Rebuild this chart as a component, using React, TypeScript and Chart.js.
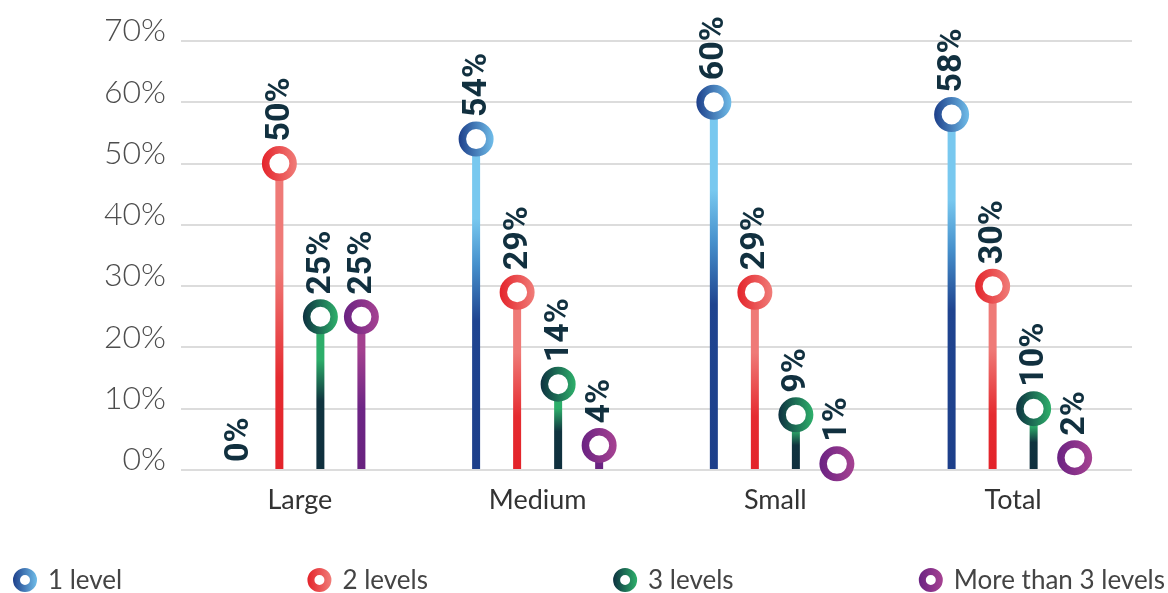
import { useEffect, useRef } from 'react';
import { Chart, registerables } from 'chart.js';

Chart.register(...registerables);

const categories = ['Large', 'Medium', 'Small', 'Total'];
const seriesNames = ['1 level', '2 levels', '3 levels', 'More than 3 levels'];
const oneLevel = [0, 54, 60, 58];
const twoLevels = [50, 29, 29, 30];
const threeLevels = [25, 14, 9, 10];
const moreThanThree = [25, 4, 1, 2];
const yMin = 0;
const yMax = 70;
const yStep = 10;

type Stop = [number, string];
const stemStops: Stop[][] = [
  [[0, '#1d3f8a'], [0.45, '#1f4490'], [0.62, '#4690cc'], [0.76, '#78c8ef'], [1, '#78c8ef']],
  [[0, '#e3232a'], [0.3, '#e52b30'], [0.66, '#ef7a77'], [1, '#ef7a77']],
  [[0, '#0f2f3e'], [0.45, '#10343f'], [0.72, '#2dae6a'], [1, '#2dae6a']],
  [[0, '#68227f'], [0.4, '#6d2585'], [0.78, '#a3408f'], [1, '#a3408f']],
];
const ringStops: [string, string][] = [
  ['#1d3f8a', '#70bde9'],
  ['#e4232a', '#f07d79'],
  ['#0d3140', '#2eb06b'],
  ['#6a2282', '#a64292'],
];

const seriesValues = [oneLevel, twoLevels, threeLevels, moreThanThree];

function drawRing(ctx: CanvasRenderingContext2D, x: number, y: number, rMid: number, lw: number, cols: [string, string]) {
  const rOut = rMid + lw / 2;
  const g = ctx.createLinearGradient(x - rOut, 0, x + rOut, 0);
  g.addColorStop(0, cols[0]);
  g.addColorStop(1, cols[1]);
  ctx.save();
  ctx.beginPath();
  ctx.arc(x, y, rMid, 0, Math.PI * 2);
  ctx.fillStyle = '#ffffff';
  ctx.fill();
  ctx.lineWidth = lw;
  ctx.strokeStyle = g;
  ctx.stroke();
  ctx.restore();
}

const lollipopPlugin = {
  id: 'lollipop',
  afterDatasetsDraw(chart: any) {
    const ctx = chart.ctx as CanvasRenderingContext2D;
    chart.data.datasets.forEach((ds: any, di: number) => {
      const meta = chart.getDatasetMeta(di);
      meta.data.forEach((el: any, i: number) => {
        const v = ds.data[i] as number;
        const { x, y } = el.getProps(['x', 'y'], true);
        if (v > 0) drawRing(ctx, x, y, 13.75, 7.5, ringStops[di]);
        ctx.save();
        ctx.translate(x, y - (v > 0 ? 22 : 8));
        ctx.rotate(-Math.PI / 2);
        ctx.font = 'bold 34px Roboto';
        ctx.fillStyle = '#11303f';
        ctx.textAlign = 'left';
        ctx.textBaseline = 'middle';
        ctx.fillText(v + '%', 0, 1);
        ctx.restore();
      });
    });
  },
};

const legendPlugin = {
  id: 'customLegend',
  afterDraw(chart: any) {
    const ctx = chart.ctx as CanvasRenderingContext2D;
    const y = 580;
    const ringW = 24;
    const gapText = 11;
    ctx.save();
    ctx.font = '26px Lato';
    const widths = chart.data.datasets.map((ds: any) => ringW + gapText + ctx.measureText(ds.label).width);
    const start = 13;
    const end = chart.width - 3;
    const total = widths.reduce((a: number, b: number) => a + b, 0);
    const gap = (end - start - total) / (widths.length - 1);
    let x = start;
    chart.data.datasets.forEach((ds: any, di: number) => {
      drawRing(ctx, x + ringW / 2, y, 8.5, 7, ringStops[di]);
      ctx.fillStyle = '#444444';
      ctx.textAlign = 'left';
      ctx.textBaseline = 'middle';
      ctx.font = '26px Lato';
      ctx.fillText(ds.label, x + ringW + gapText, y + 1);
      x += widths[di] + gap;
    });
    ctx.restore();
  },
};

function stemColor(di: number) {
  return (c: any) => {
    const stops = stemStops[di];
    const chart = c.chart;
    const ys = chart.scales && chart.scales.y;
    if (!ys || c.type !== 'data') return stops[0][1];
    const v = c.raw as number;
    const base = ys.getPixelForValue(0);
    const top = ys.getPixelForValue(v);
    if (!isFinite(base) || !isFinite(top) || base === top) return stops[0][1];
    const g = chart.ctx.createLinearGradient(0, base, 0, top);
    stops.forEach(([o, col]) => g.addColorStop(o, col));
    return g;
  };
}

export default function App() {
  const ref = useRef<HTMLCanvasElement | null>(null);
  useEffect(() => {
    if (!ref.current) return;
    const chart = new Chart(ref.current, {
      type: 'bar',
      data: {
        labels: categories,
        datasets: seriesValues.map((vals, di) => ({
          label: seriesNames[di],
          data: vals,
          backgroundColor: stemColor(di),
          borderWidth: 0,
          categoryPercentage: 0.69,
          barPercentage: 1,
          maxBarThickness: 8,
        })),
      },
      options: {
        animation: false,
        responsive: true,
        maintainAspectRatio: false,
        layout: { padding: { left: 0, right: 36, top: 41, bottom: 0 } },
        plugins: {
          legend: { display: false },
          tooltip: { enabled: false },
        },
        scales: {
          x: {
            grid: { display: false, drawTicks: false },
            border: { display: false },
            ticks: {
              font: { family: 'Lato', size: 27 },
              color: '#333333',
              padding: 14,
            },
            afterFit: (s: any) => {
              s.height = 123;
            },
          },
          y: {
            min: yMin,
            max: yMax,
            grid: { color: '#dcdcdc', lineWidth: 2, drawTicks: false },
            border: { display: false },
            ticks: {
              stepSize: yStep,
              padding: 15,
              labelOffset: -10,
              font: { family: 'Lato', size: 32, weight: 300 },
              color: '#4d4d4d',
              callback: (v: any) => v + '%',
            },
            afterFit: (s: any) => {
              s.width = 181;
            },
          },
        },
      },
      plugins: [lollipopPlugin, legendPlugin],
    } as any);
    return () => chart.destroy();
  }, []);
  return (
    <div style={{ position: 'fixed', left: 0, top: 0, width: 1168, height: 593, background: '#ffffff' }}>
      <canvas ref={ref} />
    </div>
  );
}
